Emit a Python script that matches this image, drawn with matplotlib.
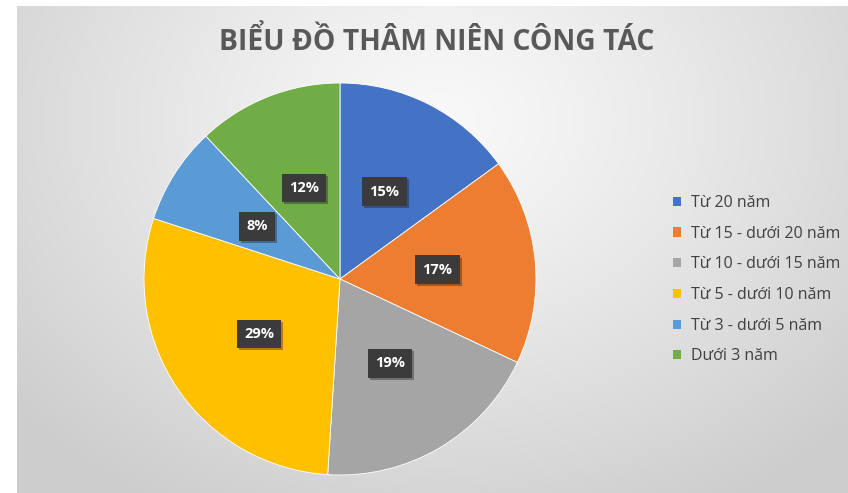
import numpy as np
import matplotlib
matplotlib.use("Agg")
import matplotlib.pyplot as plt
import matplotlib.patheffects as pe
from matplotlib.patches import Patch

title = "BIỂU ĐỒ THÂM NIÊN CÔNG TÁC"
categories = ["Từ 20 năm", "Từ 15 - dưới 20 năm", "Từ 10 - dưới 15 năm",
              "Từ 5 - dưới 10 năm", "Từ 3 - dưới 5 năm", "Dưới 3 năm"]
values = [15, 17, 19, 29, 8, 12]
colors = ["#4472C4", "#ED7D31", "#A5A5A5", "#FFC000", "#5B9BD5", "#70AD47"]

W, H = 848, 493
fig = plt.figure(figsize=(W/100, H/100), dpi=100, facecolor="white")

# background gradient (chart area starts at x=17, y=6)
X0, Y0 = 17, 6
bg = fig.add_axes([0, 0, 1, 1])
yy, xx = np.mgrid[0:H, 0:W]
d = np.sqrt(((xx - 440) / 560.0) ** 2 + ((yy - 120) / 440.0) ** 2)
d = np.clip(d, 0, 1)
g = 0.975 - 0.17 * d ** 1.2
img = np.dstack([g, g, g])
img[:, :X0] = 1.0
img[:Y0, :] = 1.0
bg.imshow(img, extent=[0, W, H, 0], aspect="auto", interpolation="bilinear")
bg.set_xlim(0, W); bg.set_ylim(H, 0)
bg.axis("off")

fig.text(437/W, 1 - 42/H, title, ha="center", va="center",
         fontsize=20.3, fontweight="bold", color="#595959", family="Open Sans")

cx, cy, r = 340, 279, 196
ax = fig.add_axes([(cx - r)/W, 1 - (cy + r)/H, 2*r/W, 2*r/H])
wedges, texts = ax.pie(values, colors=colors, startangle=90, counterclock=False,
                       wedgeprops=dict(linewidth=0.6, edgecolor="white"),
                       radius=1.0)
ax.set_xlim(-1, 1); ax.set_ylim(-1, 1)
ax.set_aspect("auto")
ax.axis("off")

total = sum(values)
start = 90.0
for v in values:
    ang = np.deg2rad(start - 360.0 * v / total / 2)
    start -= 360.0 * v / total
    x, y = 0.5 * np.cos(ang), 0.5 * np.sin(ang)
    ax.text(x, y, f"{round(100*v/total)}%", ha="center", va="center",
            fontsize=10.5, fontweight="bold", color="white", family="Open Sans",
            bbox=dict(boxstyle="square,pad=0.5", fc="#3b3b3b", ec="none",
                      path_effects=[pe.withSimplePatchShadow(offset=(1.5, -1.5), alpha=0.35)]))

handles = [Patch(facecolor=c, edgecolor="none") for c in colors]
leg = fig.legend(handles, categories, loc="upper left",
                 bbox_to_anchor=(673/W, 1 - 195/H), frameon=False,
                 prop=dict(family="Open Sans", size=11.5),
                 handlelength=0.5, handleheight=0.5, handletextpad=0.6,
                 labelspacing=0.92, borderaxespad=0, borderpad=0)
for t in leg.get_texts():
    t.set_color("#404040")

fig.savefig("out.png", dpi=100, facecolor="white")
